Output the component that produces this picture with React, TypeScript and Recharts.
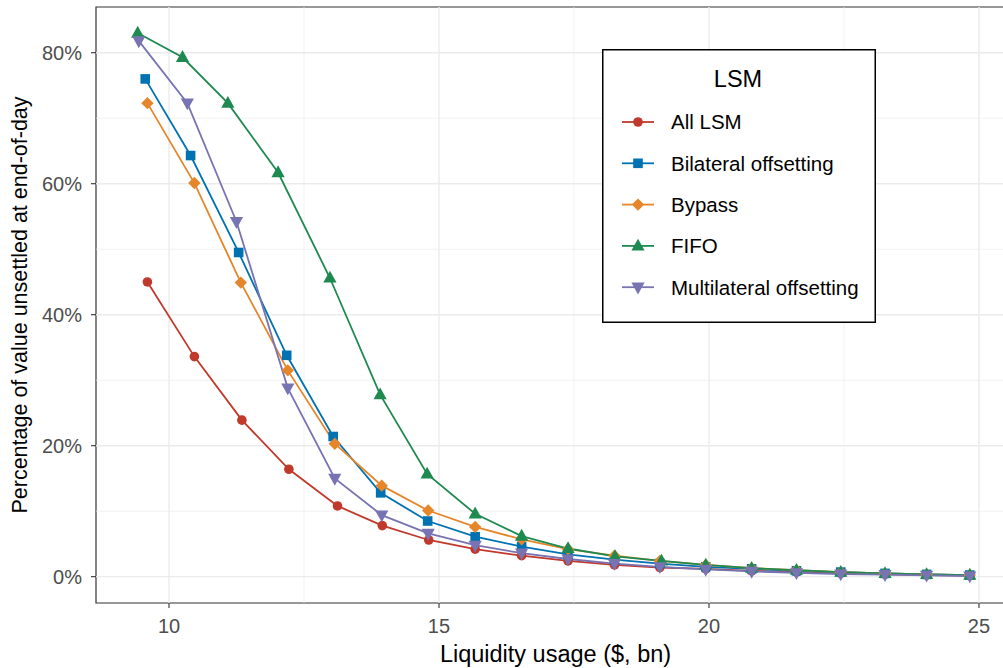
import { LineChart, Line, XAxis, YAxis, ReferenceLine, ReferenceArea } from 'recharts';

// liquidity usage ($bn) per LSM variant
const allLsmX = [9.6, 10.47, 11.35, 12.22, 13.12, 13.95, 14.81, 15.67, 16.53, 17.39, 18.25, 19.09, 19.94, 20.79, 21.62, 22.44, 23.26, 24.03, 24.83];
const allLsmY = [45.0, 33.6, 23.9, 16.4, 10.8, 7.8, 5.6, 4.2, 3.2, 2.4, 1.8, 1.4, 1.2, 0.9, 0.7, 0.5, 0.35, 0.25, 0.15];

const bilateralX = [9.56, 10.4, 11.29, 12.18, 13.04, 13.92, 14.79, 15.67, 16.53, 17.39, 18.25, 19.09, 19.94, 20.79, 21.62, 22.44, 23.26, 24.03, 24.83];
const bilateralY = [76.0, 64.3, 49.5, 33.8, 21.4, 12.8, 8.5, 6.1, 4.6, 3.4, 2.6, 2.0, 1.5, 1.2, 0.9, 0.7, 0.5, 0.35, 0.25];

const bypassX = [9.6, 10.47, 11.33, 12.2, 13.07, 13.94, 14.8, 15.67, 16.53, 17.39, 18.25, 19.09, 19.94, 20.79, 21.62, 22.44, 23.26, 24.03, 24.83];
const bypassY = [72.3, 60.1, 44.9, 31.5, 20.3, 13.9, 10.1, 7.6, 5.7, 4.2, 3.2, 2.4, 1.8, 1.3, 1.0, 0.7, 0.5, 0.35, 0.25];

const fifoX = [9.42, 10.25, 11.09, 12.02, 12.98, 13.91, 14.78, 15.67, 16.53, 17.39, 18.26, 19.12, 19.94, 20.79, 21.62, 22.44, 23.26, 24.03, 24.83];
const fifoY = [83.0, 79.3, 72.3, 61.7, 45.6, 27.8, 15.7, 9.6, 6.2, 4.3, 3.1, 2.4, 1.8, 1.3, 1.0, 0.7, 0.5, 0.35, 0.25];

const multilateralX = [9.44, 10.34, 11.25, 12.2, 13.07, 13.94, 14.8, 15.67, 16.53, 17.39, 18.25, 19.09, 19.94, 20.79, 21.62, 22.44, 23.26, 24.03, 24.83];
const multilateralY = [81.8, 72.3, 54.2, 28.8, 15.0, 9.4, 6.6, 4.8, 3.6, 2.7, 2.0, 1.5, 1.1, 0.8, 0.6, 0.4, 0.3, 0.2, 0.1];

const xTicks = [10, 15, 20, 25];
const xMinor = [12.5, 17.5, 22.5];
const yTicks = [0, 20, 40, 60, 80];
const yMinor = [10, 30, 50, 70];

const X_DOMAIN: [number, number] = [8.648, 25.667];
const Y_DOMAIN: [number, number] = [-4.02, 86.98];

const FONT = '"Liberation Sans", Arial, sans-serif';

type Shape = 'circle' | 'square' | 'diamond' | 'triangle' | 'triangleDown';

const series: { name: string; color: string; shape: Shape; xs: number[]; ys: number[] }[] = [
    { name: 'All LSM', color: '#C0392B', shape: 'circle', xs: allLsmX, ys: allLsmY },
    { name: 'Bilateral offsetting', color: '#0072B2', shape: 'square', xs: bilateralX, ys: bilateralY },
    { name: 'Bypass', color: '#E6862B', shape: 'diamond', xs: bypassX, ys: bypassY },
    { name: 'FIFO', color: '#1E8A50', shape: 'triangle', xs: fifoX, ys: fifoY },
    { name: 'Multilateral offsetting', color: '#7873B3', shape: 'triangleDown', xs: multilateralX, ys: multilateralY },
];

const toPoints = (xs: number[], ys: number[]) => xs.map((x, i) => ({ x, y: ys[i] }));

const Marker = ({ cx, cy, color, shape }: { cx: number; cy: number; color: string; shape: Shape }) => {
    if (shape === 'circle') return <circle cx={cx} cy={cy} r={4.8} fill={color} />;
    if (shape === 'square') return <rect x={cx - 4.8} y={cy - 4.8} width={9.6} height={9.6} fill={color} />;
    if (shape === 'diamond')
        return <polygon points={`${cx},${cy - 6.2} ${cx + 6.2},${cy} ${cx},${cy + 6.2} ${cx - 6.2},${cy}`} fill={color} />;
    if (shape === 'triangle')
        return <polygon points={`${cx},${cy - 7.2} ${cx + 6.6},${cy + 4.6} ${cx - 6.6},${cy + 4.6}`} fill={color} />;
    return <polygon points={`${cx},${cy + 7.2} ${cx + 6.6},${cy - 4.6} ${cx - 6.6},${cy - 4.6}`} fill={color} />;
};

const LegendBox = () => (
    <svg width={274} height={274} style={{ position: 'absolute', left: 602, top: 49, display: 'block' }}>
        <rect x={0.75} y={0.75} width={272.5} height={272.5} fill="#fff" stroke="#000" strokeWidth={1.5} />
        <text x={136} y={37.5} textAnchor="middle" fontFamily={FONT} fontSize={23.5} fill="#000">
            LSM
        </text>
        {series.map((s, i) => {
            const cy = 73 + i * 41.3;
            return (
                <g key={s.name}>
                    <line x1={20} x2={52} y1={cy} y2={cy} stroke={s.color} strokeWidth={1.8} />
                    <Marker cx={36} cy={cy} color={s.color} shape={s.shape} />
                    <text x={69} y={cy + 7.4} fontFamily={FONT} fontSize={20.5} fill="#000">
                        {s.name}
                    </text>
                </g>
            );
        })}
    </svg>
);

const tickStyle = { fill: '#4D4D4D', fontSize: 20, fontFamily: FONT };

export default function App() {
    return (
        <div style={{ position: 'absolute', left: 0, top: 0, width: 1003, height: 668, overflow: 'hidden', background: '#fff' }}>
            <LineChart width={1030} height={668} margin={{ top: 7, right: 15, bottom: 0, left: 0 }}>
                {xMinor.map((v) => (
                    <ReferenceLine key={`xm${v}`} x={v} stroke="#EBEBEB" strokeWidth={0.7} />
                ))}
                {yMinor.map((v) => (
                    <ReferenceLine key={`ym${v}`} y={v} stroke="#EBEBEB" strokeWidth={0.7} />
                ))}
                {xTicks.map((v) => (
                    <ReferenceLine key={`x${v}`} x={v} stroke="#EBEBEB" strokeWidth={1.4} />
                ))}
                {yTicks.map((v) => (
                    <ReferenceLine key={`y${v}`} y={v} stroke="#EBEBEB" strokeWidth={1.4} />
                ))}
                <XAxis
                    type="number"
                    dataKey="x"
                    domain={X_DOMAIN}
                    ticks={xTicks}
                    allowDataOverflow
                    height={65}
                    axisLine={false}
                    tickLine={{ stroke: '#333333', strokeWidth: 1.1 }}
                    tickSize={5}
                    tickMargin={11}
                    tick={tickStyle}
                    label={{ value: 'Liquidity usage ($, bn)', position: 'insideBottom', offset: 6, style: { fill: '#000', fontSize: 23.5, fontFamily: FONT } }}
                />
                <YAxis
                    type="number"
                    domain={Y_DOMAIN}
                    ticks={yTicks}
                    allowDataOverflow
                    width={96}
                    axisLine={false}
                    tickLine={{ stroke: '#333333', strokeWidth: 1.1 }}
                    tickSize={5}
                    tickMargin={9}
                    tick={tickStyle}
                    tickFormatter={(v) => `${v}%`}
                    label={{
                        value: 'Percentage of value unsettled at end-of-day',
                        angle: -90,
                        position: 'insideLeft',
                        offset: 19,
                        style: { textAnchor: 'middle', fill: '#000', fontSize: 21.5, fontFamily: FONT },
                    }}
                />
                {series.map((s) => (
                    <Line
                        key={s.name}
                        name={s.name}
                        data={toPoints(s.xs, s.ys)}
                        dataKey="y"
                        type="linear"
                        stroke={s.color}
                        strokeWidth={1.8}
                        isAnimationActive={false}
                        activeDot={false}
                        dot={(p: any) => <Marker key={`${s.name}-${p.index}`} cx={p.cx} cy={p.cy} color={s.color} shape={s.shape} />}
                    />
                ))}
                <ReferenceArea
                    x1={X_DOMAIN[0]}
                    x2={X_DOMAIN[1]}
                    y1={Y_DOMAIN[0]}
                    y2={Y_DOMAIN[1]}
                    fill="none"
                    fillOpacity={0}
                    stroke="#333333"
                    strokeWidth={1.2}
                    ifOverflow="visible"
                />
            </LineChart>
            <LegendBox />
        </div>
    );
}
